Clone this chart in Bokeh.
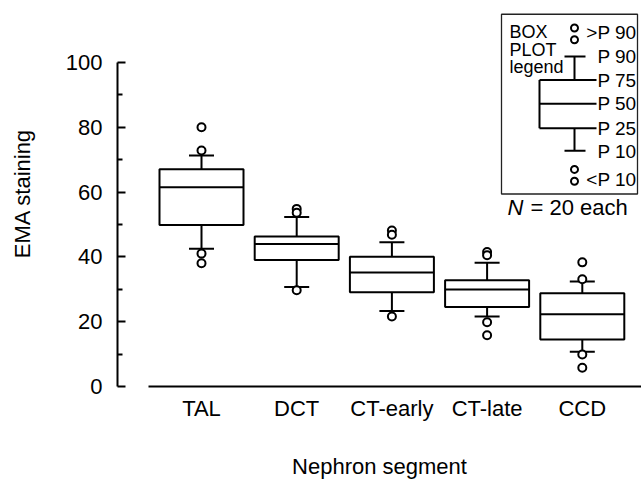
from bokeh.plotting import figure
from bokeh.models import FixedTicker, Label, Range1d
from bokeh.embed import file_html
from bokeh.resources import INLINE
from bokeh.core.properties import value

# ---- data ----
segments = ["TAL", "DCT", "CT-early", "CT-late", "CCD"]
p10 = [42.5, 30.7, 23.3, 21.6, 10.7]
q1 = [49.8, 39.0, 29.1, 24.5, 14.5]
med = [61.5, 44.0, 35.2, 29.9, 22.3]
q3 = [67.0, 46.3, 40.0, 32.8, 28.8]
p90 = [71.3, 52.3, 44.5, 38.2, 32.4]
outliers = [
    [80.0, 72.8, 41.0, 38.0],
    [54.8, 53.6, 29.7],
    [48.1, 46.8, 21.6],
    [41.5, 40.5, 19.8, 15.8],
    [38.3, 33.1, 9.9, 5.8],
]
y_ticks = [0, 20, 40, 60, 80, 100]
y_minor = [10, 30, 50, 70, 90]

FONT = "Liberation Sans"
W, H = 641, 481
LEFT, BOTTOM = 117, 88
XPX = 95.2   # px per category
YPX = 3.3    # px per unit
x0 = 1 - (201 - LEFT) / XPX
fw = W - LEFT
fh = H - BOTTOM
x_end = x0 + fw / XPX
y_end = fh / YPX

p = figure(width=W, height=H, output_backend="svg", toolbar_location=None,
           x_range=Range1d(x0, x_end), y_range=Range1d(0, y_end),
           min_border_left=LEFT, min_border_right=0, min_border_top=0,
           min_border_bottom=BOTTOM)
p.outline_line_color = None
p.grid.visible = False
p.background_fill_color = "white"
p.border_fill_color = "white"

xs = list(range(1, len(segments) + 1))
bw = 84 / XPX
cw = 25 / XPX
lw = 2

# whiskers
p.segment(x0=xs, y0=q3, x1=xs, y1=p90, line_color="black", line_width=lw)
p.segment(x0=xs, y0=q1, x1=xs, y1=p10, line_color="black", line_width=lw)
p.segment(x0=[x - cw / 2 for x in xs], y0=p90, x1=[x + cw / 2 for x in xs], y1=p90,
          line_color="black", line_width=lw)
p.segment(x0=[x - cw / 2 for x in xs], y0=p10, x1=[x + cw / 2 for x in xs], y1=p10,
          line_color="black", line_width=lw)
# boxes
p.quad(left=[x - bw / 2 for x in xs], right=[x + bw / 2 for x in xs], bottom=q1, top=q3,
       fill_color="white", line_color="black", line_width=lw)
p.segment(x0=[x - bw / 2 for x in xs], y0=med, x1=[x + bw / 2 for x in xs], y1=med,
          line_color="black", line_width=lw)
# outliers
ox, oy = [], []
for x, vals in zip(xs, outliers):
    for v in vals:
        ox.append(x)
        oy.append(v)
p.scatter(ox, oy, marker="circle", size=8, fill_color="white", line_color="black", line_width=lw)

# axes
ya = p.yaxis[0]
ya.ticker = FixedTicker(ticks=y_ticks, minor_ticks=y_minor)
ya.bounds = (0, 100)
ya.axis_line_width = 2
ya.major_tick_line_width = 2
ya.minor_tick_line_width = 2
ya.major_tick_out = 0
ya.major_tick_in = 8
ya.minor_tick_out = 0
ya.minor_tick_in = 5
ya.major_label_text_font = FONT
ya.major_label_text_font_size = "22px"
ya.major_label_text_color = "black"
ya.major_label_standoff = 15
ya.axis_label = "EMA staining"
ya.axis_label_text_font = FONT
ya.axis_label_text_font_size = "22px"
ya.axis_label_text_font_style = "normal"
ya.axis_label_text_color = "black"
ya.axis_label_standoff = 28

xa = p.xaxis[0]
xa.ticker = FixedTicker(ticks=xs, minor_ticks=[])
xa.major_label_overrides = {i: s for i, s in zip(xs, segments)}
xa.bounds = (x0 + (148 - LEFT) / XPX, x_end)
xa.axis_line_width = 2
xa.major_tick_out = 0
xa.major_tick_in = 0
xa.minor_tick_out = 0
xa.minor_tick_in = 0
xa.major_label_text_font = FONT
xa.major_label_text_font_size = "22px"
xa.major_label_text_color = "black"
xa.major_label_standoff = 9
xa.axis_label = "Nephron segment"
xa.axis_label_text_font = FONT
xa.axis_label_text_font_size = "22px"
xa.axis_label_text_font_style = "normal"
xa.axis_label_text_color = "black"
xa.axis_label_standoff = 30

# ---- box-plot legend (layout in pixels -> data) ----
def px(x):
    return x0 + (x - LEFT) / XPX

def py(y):
    return (fh - y) / YPX

p.quad(left=[px(501)], right=[px(637)], top=[py(14)], bottom=[py(197)],
       fill_color="white", line_color="#222222", line_width=1.3)
lx, wx = 539, 574
p.segment(x0=[px(lx)], y0=[py(81)], x1=[px(lx)], y1=[py(130)], line_color="black", line_width=lw)
p.segment(x0=[px(lx)] * 3, y0=[py(81), py(105), py(130)], x1=[px(596)] * 3,
          y1=[py(81), py(105), py(130)], line_color="black", line_width=lw)
p.segment(x0=[px(wx)] * 2, y0=[py(57), py(130)], x1=[px(wx)] * 2, y1=[py(81), py(153)],
          line_color="black", line_width=lw)
p.segment(x0=[px(564)] * 2, y0=[py(57), py(153)], x1=[px(585)] * 2, y1=[py(57), py(153)],
          line_color="black", line_width=lw)
p.scatter([px(wx)] * 4, [py(28), py(40), py(172), py(184)], marker="circle", size=7,
          fill_color="white", line_color="black", line_width=lw)

leg_labels = [">P 90", "P 90", "P 75", "P 50", "P 25", "P 10", "<P 10"]
leg_y = [33, 57, 81, 105, 130, 154, 182]
p.text(x=[px(636)] * len(leg_labels), y=[py(v) for v in leg_y], text=leg_labels,
       text_font=value(FONT), text_font_size="19px", text_align="right",
       text_baseline="middle", text_color="black")
p.text(x=[px(509)] * 3, y=[py(32), py(50), py(68)], text=["BOX", "PLOT", "legend"],
       text_font=value(FONT), text_font_size="18px", text_align="left",
       text_baseline="middle", text_color="black")
p.add_layout(Label(x=px(507), y=py(211), text="N", text_font=FONT, text_font_size="22px",
                   text_font_style="italic", text_baseline="middle", text_color="black"))
p.add_layout(Label(x=px(530), y=py(211), text="= 20 each", text_font=FONT,
                   text_font_size="22px", text_baseline="middle", text_color="black"))

open("out.html", "w").write(file_html(p, INLINE))
